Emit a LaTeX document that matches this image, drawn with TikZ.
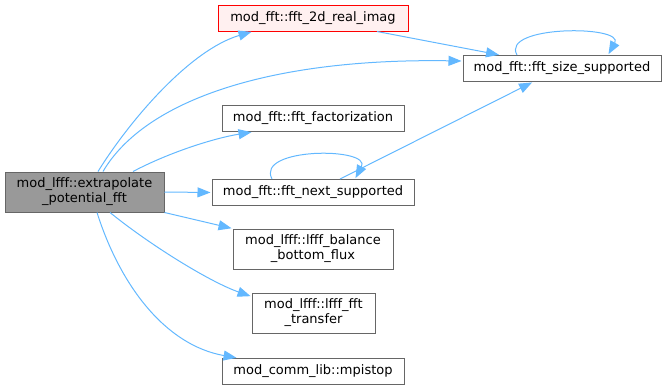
\documentclass[tikz,border=0pt]{standalone}
\usepackage{fontspec}
\setmainfont{DejaVu Sans}
\usetikzlibrary{arrows.meta}
\definecolor{edgec}{HTML}{63B8FF}
\definecolor{boxline}{HTML}{666666}
\definecolor{mainfill}{HTML}{999999}
\definecolor{redfill}{HTML}{FFF0F0}
\begin{document}
\begin{tikzpicture}[x=1pt,y=-1pt,
  box/.style={draw=boxline,fill=white,line width=1pt,inner sep=0pt,minimum height=26pt,
    align=center,font=\fontsize{13}{15}\selectfont},
  mainbox/.style={box,fill=mainfill,minimum height=40pt},
  redbox/.style={box,draw=red,fill=redfill},
  tallbox/.style={box,minimum height=40pt},
  edge/.style={draw=edgec,line width=1pt,shorten >=1pt,-{Triangle[length=13pt,width=10pt]}}]
\path[use as bounding box] (0,0) rectangle (667,389);
\node[mainbox,minimum width=159pt] (main) at (84.5,192) {mod\_lfff::extrapolate\\\_potential\_fft};
\node[redbox,minimum width=190pt] (f2d) at (313,18) {mod\_fft::fft\_2d\_real\_imag};
\node[box,minimum width=198pt] (size) at (562,68.5) {mod\_fft::fft\_size\_supported};
\node[box,minimum width=182pt] (fact) at (313,118.5) {mod\_fft::fft\_factorization};
\node[box,minimum width=202pt] (next) at (313,192.5) {mod\_fft::fft\_next\_supported};
\node[tallbox,minimum width=160pt] (bal) at (313,249) {mod\_lfff::lfff\_balance\\\_bottom\_flux};
\node[tallbox,minimum width=123pt] (xfer) at (313.5,313) {mod\_lfff::lfff\_fft\\\_transfer};
\node[box,minimum width=182pt] (mpi) at (313,371.5) {mod\_comm\_lib::mpistop};
% edges
\draw[edge] ([xshift=13.5pt]main.north) .. controls (130,120) and (190,50) .. ([xshift=35pt]f2d.south west);
\draw[edge] ([xshift=18.5pt]main.north) .. controls (145,100) and (270,58) .. ([yshift=7.5pt]size.west);
\draw[edge] ([xshift=64pt]f2d.south) -- ([xshift=-62pt]size.north);
\draw[edge] ([xshift=-45pt]size.north) .. controls (500,25) and (625,25) .. ([xshift=46pt]size.north);
\draw[edge] ([xshift=48.5pt]main.north) .. controls (170,152) and (215,138) .. ([xshift=31pt]fact.south west);
\draw[edge] (main.east) -- (next.west);
\draw[edge] ([xshift=-41pt]next.north) .. controls (255,147) and (372,147) .. ([xshift=42pt]next.north);
\draw[edge] ([xshift=27pt]next.north) -- ([xshift=-29pt]size.south);
\draw[edge] (main.south east) -- (bal.north west);
\draw[edge] ([xshift=25.5pt]main.south) .. controls (150,245) and (210,282) .. ([yshift=-4pt]xfer.north west);
\draw[edge] ([xshift=12.5pt]main.south) .. controls (120,285) and (165,345) .. ([xshift=16pt]mpi.north west);
\end{tikzpicture}
\end{document}
